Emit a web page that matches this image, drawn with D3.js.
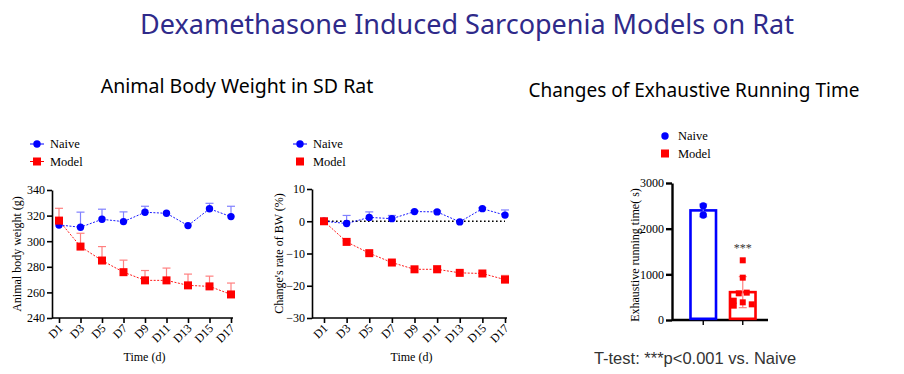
<!DOCTYPE html>
<html>
<head>
<meta charset="utf-8">
<script src="https://cdn.jsdelivr.net/npm/d3@7"></script>
<style>
  body { margin: 0; background: #fff; }
  svg text { fill: #000; }
  .serif { font-family: "Liberation Serif", "DejaVu Serif", serif; }
  .axis path, .axis line { stroke: #000; }
</style>
</head>
<body>
<svg id="chart" width="904" height="374"></svg>
<script>
// ---- data ----
var days = ["D1", "D3", "D5", "D7", "D9", "D11", "D13", "D15", "D17"];

var bwNaive = [312.7, 310.9, 317.1, 315.3, 322.6, 321.8, 312.2, 325.3, 319.2];
var bwNaiveErr = [1.5, 11.8, 7.9, 7.6, 4.7, 0, 0, 4.3, 8.1];
var bwModel = [316.1, 295.8, 284.9, 275.8, 269.4, 269.4, 265.5, 264.7, 258.4];
var bwModelErr = [9.6, 10.4, 10.9, 9.4, 7.7, 9.6, 8.8, 8.0, 8.9];

var rateNaive = [0, -0.7, 1.2, 0.8, 3.0, 2.9, -0.2, 3.9, 1.9];
var rateNaiveErr = [0, 2.5, 1.7, 1.0, 0.3, 0.3, 0, 0.3, 1.6];
var rateModel = [0, -6.4, -9.9, -12.8, -14.9, -14.9, -16.0, -16.2, -18.1];
var rateModelErr = [0, 0.3, 0.2, 0.3, 0.3, 1.1, 0.2, 0.2, 1.3];

var runGroups = ["Naive", "Model"];
var runMean = [2400, 610];
var runSd = [140, 340];
var runNaivePts = [2500, 2300];
var runModelPts = [1307, 927, 584, 599, 423, 387, 343, 314];
var runModelJitter = [0, 0, -4, 4, -9, 0, 9, -9];

var bwTicks = [240, 260, 280, 300, 320, 340];
var rateTicks = [-30, -20, -10, 0, 10];
var runTicks = [0, 1000, 2000, 3000];

var BLUE = "#0000ff", RED = "#ff0000";
var BLUE_L = "#8080ff", RED_L = "#ff8080";
var FS = "12px";

var svg = d3.select("#chart");

// ---- titles ----
svg.append("text").attr("x", 467).attr("y", 34).attr("text-anchor", "middle")
  .style("font-family", "'Noto Sans', sans-serif").style("font-size", "27px")
  .style("fill", "#2f2a8a").text("Dexamethasone Induced Sarcopenia Models on Rat");
svg.append("text").attr("x", 237).attr("y", 93).attr("text-anchor", "middle")
  .style("font-family", "'Noto Sans', sans-serif").style("font-size", "19.5px")
  .text("Animal Body Weight in SD Rat");
svg.append("text").attr("x", 694).attr("y", 97).attr("text-anchor", "middle")
  .style("font-family", "'Noto Sans', sans-serif").style("font-size", "19px")
  .text("Changes of Exhaustive Running Time");
svg.append("text").attr("x", 695).attr("y", 364).attr("text-anchor", "middle")
  .style("font-family", "'Liberation Sans', sans-serif").style("font-size", "16.5px")
  .style("fill", "#333").text("T-test: ***p<0.001 vs. Naive");

// ---- helpers ----
function marker(g, shape, x, y, color) {
  if (shape === "circle") {
    g.append("circle").attr("cx", x).attr("cy", y).attr("r", 3.7).attr("fill", color);
  } else {
    g.append("rect").attr("x", x - 4).attr("y", y - 4).attr("width", 8).attr("height", 8).attr("fill", color);
  }
}

function legend(g, x, y, items) {
  items.forEach(function(it, i) {
    var yy = y + i * 17.5;
    if (it.line) {
      g.append("line").attr("x1", x - 7).attr("x2", x + 7).attr("y1", yy).attr("y2", yy)
        .attr("stroke", it.color).attr("stroke-width", 1);
    }
    marker(g, it.shape, x, yy, it.color);
    g.append("text").attr("class", "serif").attr("x", x + 13).attr("y", yy + 4)
      .style("font-size", "12.5px").text(it.name);
  });
}

function lineChart(opt) {
  var g = svg.append("g");
  var x = d3.scalePoint().domain(days).range(opt.xr);
  var y = d3.scaleLinear().domain(opt.yd).range(opt.yr);

  // axes
  var ya = g.append("g").attr("class", "axis serif").attr("transform", "translate(" + opt.ax + ",0)")
    .call(d3.axisLeft(y).tickValues(opt.ticks).tickFormat(d3.format("d")).tickSize(5).tickSizeOuter(0).tickPadding(2));
  ya.select(".domain").attr("stroke-width", 1.6);
  ya.selectAll(".tick line").attr("stroke-width", 1.6);
  ya.selectAll("text").style("font-size", FS).attr("fill", "#000");

  var xa = g.append("g").attr("class", "axis serif").attr("transform", "translate(0," + opt.yr[0] + ")")
    .call(d3.axisBottom(x).tickSize(5).tickSizeOuter(0));
  xa.select(".domain").attr("d", "M" + opt.ax + ",0H" + (opt.xr[1] + 2)).attr("stroke-width", 1.6);
  xa.selectAll(".tick line").attr("stroke-width", 1.6);
  xa.selectAll("text").style("font-size", FS).attr("fill", "#000")
    .attr("text-anchor", "end").attr("dy", null).attr("y", 0)
    .attr("transform", "translate(4,11) rotate(-45)");

  g.append("text").attr("class", "serif").attr("x", (opt.ax + opt.xr[1]) / 2 + 3).attr("y", opt.yr[0] + 43)
    .attr("text-anchor", "middle").style("font-size", FS).text("Time (d)");
  g.append("text").attr("class", "serif")
    .attr("transform", "translate(" + (opt.ax - opt.titleOff) + "," + ((opt.yr[0] + opt.yr[1]) / 2) + ") rotate(-90)")
    .attr("text-anchor", "middle").style("font-size", FS).text(opt.ytitle);

  if (opt.zero) {
    g.append("line").attr("x1", x(days[0])).attr("x2", x(days[days.length - 1]))
      .attr("y1", y(0)).attr("y2", y(0)).attr("stroke", "#000").attr("stroke-width", 1.6)
      .attr("stroke-dasharray", "1.6,2.4");
  }

  var series = [
    { vals: opt.naive, err: opt.naiveErr, color: BLUE, light: BLUE_L, shape: "circle" },
    { vals: opt.model, err: opt.modelErr, color: RED, light: RED_L, shape: "square" }
  ];
  series.forEach(function(s) {
    // error bars (upper)
    s.vals.forEach(function(v, i) {
      if (s.err[i] <= 0) return;
      var cx = x(days[i]);
      g.append("line").attr("x1", cx).attr("x2", cx).attr("y1", y(v)).attr("y2", y(v + s.err[i]))
        .attr("stroke", s.light).attr("stroke-width", 1.2);
      g.append("line").attr("x1", cx - 4).attr("x2", cx + 4).attr("y1", y(v + s.err[i])).attr("y2", y(v + s.err[i]))
        .attr("stroke", s.light).attr("stroke-width", 1.2);
    });
    var line = d3.line().x(function(d, i) { return x(days[i]); }).y(function(d) { return y(d); });
    g.append("path").datum(s.vals).attr("d", line).attr("fill", "none")
      .attr("stroke", s.color).attr("stroke-width", 0.9).attr("stroke-dasharray", "2,1.5");
    s.vals.forEach(function(v, i) { marker(g, s.shape, x(days[i]), y(v), s.color); });
  });

  legend(g, opt.legX, 144, [
    { name: "Naive", color: BLUE, shape: "circle", line: true },
    { name: "Model", color: RED, shape: "square", line: opt.modelLegendLine }
  ]);
}

lineChart({
  xr: [59, 231], ax: 52, yd: [240, 340], yr: [318, 190], ticks: bwTicks,
  naive: bwNaive, naiveErr: bwNaiveErr, model: bwModel, modelErr: bwModelErr,
  ytitle: "Animal body weight (g)", legX: 37, modelLegendLine: true, zero: false, titleOff: 31
});
lineChart({
  xr: [324, 505], ax: 312, yd: [-30, 10], yr: [318, 189], ticks: rateTicks,
  naive: rateNaive, naiveErr: rateNaiveErr, model: rateModel, modelErr: rateModelErr,
  ytitle: "Change's rate of BW (%)", legX: 300, modelLegendLine: false, zero: true, titleOff: 29
});

// ---- bar chart ----
(function() {
  var g = svg.append("g");
  var x = d3.scaleBand().domain(runGroups).range([675, 771]).paddingInner(0.354).paddingOuter(0.392);
  var y = d3.scaleLinear().domain([0, 3000]).range([320, 183]);

  var ya = g.append("g").attr("class", "axis serif").attr("transform", "translate(672,0)")
    .call(d3.axisLeft(y).tickValues(runTicks).tickFormat(d3.format("d")).tickSize(6).tickSizeOuter(0).tickPadding(2));
  ya.select(".domain").attr("stroke-width", 2.4);
  ya.selectAll(".tick line").attr("stroke-width", 2.4);
  ya.selectAll("text").style("font-size", FS).attr("fill", "#000");

  var xa = g.append("g").attr("class", "axis").attr("transform", "translate(0,320)")
    .call(d3.axisBottom(x).tickSize(5).tickSizeOuter(0).tickFormat(""));
  xa.select(".domain").attr("d", "M672,0H768").attr("stroke-width", 2.4);
  xa.selectAll(".tick line").attr("stroke-width", 1.4);

  g.append("text").attr("class", "serif")
    .attr("transform", "translate(639,255) rotate(-90)")
    .attr("text-anchor", "middle").style("font-size", FS).text("Exhaustive running time( s)");

  var colors = [BLUE, RED], lights = [BLUE_L, RED_L];
  runGroups.forEach(function(grp, i) {
    var bx = x(grp), bw = x.bandwidth(), cx = bx + bw / 2;
    g.append("rect").attr("x", bx).attr("y", y(runMean[i])).attr("width", bw)
      .attr("height", y(0) - y(runMean[i]) - 1.2)
      .attr("fill", "#fff").attr("stroke", colors[i]).attr("stroke-width", 2.6);
    var lo = runMean[i] - runSd[i], hi = runMean[i] + runSd[i];
    g.append("line").attr("x1", cx).attr("x2", cx).attr("y1", y(lo)).attr("y2", y(hi))
      .attr("stroke", lights[i]).attr("stroke-width", 1.2);
    [lo, hi].forEach(function(v) {
      g.append("line").attr("x1", cx - 4).attr("x2", cx + 4).attr("y1", y(v)).attr("y2", y(v))
        .attr("stroke", lights[i]).attr("stroke-width", 1.2);
    });
  });
  var cn = x("Naive") + x.bandwidth() / 2, cm = x("Model") + x.bandwidth() / 2;
  runNaivePts.forEach(function(v) { marker(g, "circle", cn, y(v), BLUE); });
  runModelPts.forEach(function(v, i) {
    g.append("rect").attr("x", cm + runModelJitter[i] - 3).attr("y", y(v) - 3)
      .attr("width", 6).attr("height", 6).attr("fill", RED);
  });
  g.append("text").attr("class", "serif").attr("x", cm).attr("y", 252).attr("text-anchor", "middle")
    .style("font-size", "12px").style("fill", "#333").text("***");

  legend(g, 665, 136, [
    { name: "Naive", color: BLUE, shape: "circle", line: false },
    { name: "Model", color: RED, shape: "square", line: false }
  ]);
})();
</script>
</body>
</html>
